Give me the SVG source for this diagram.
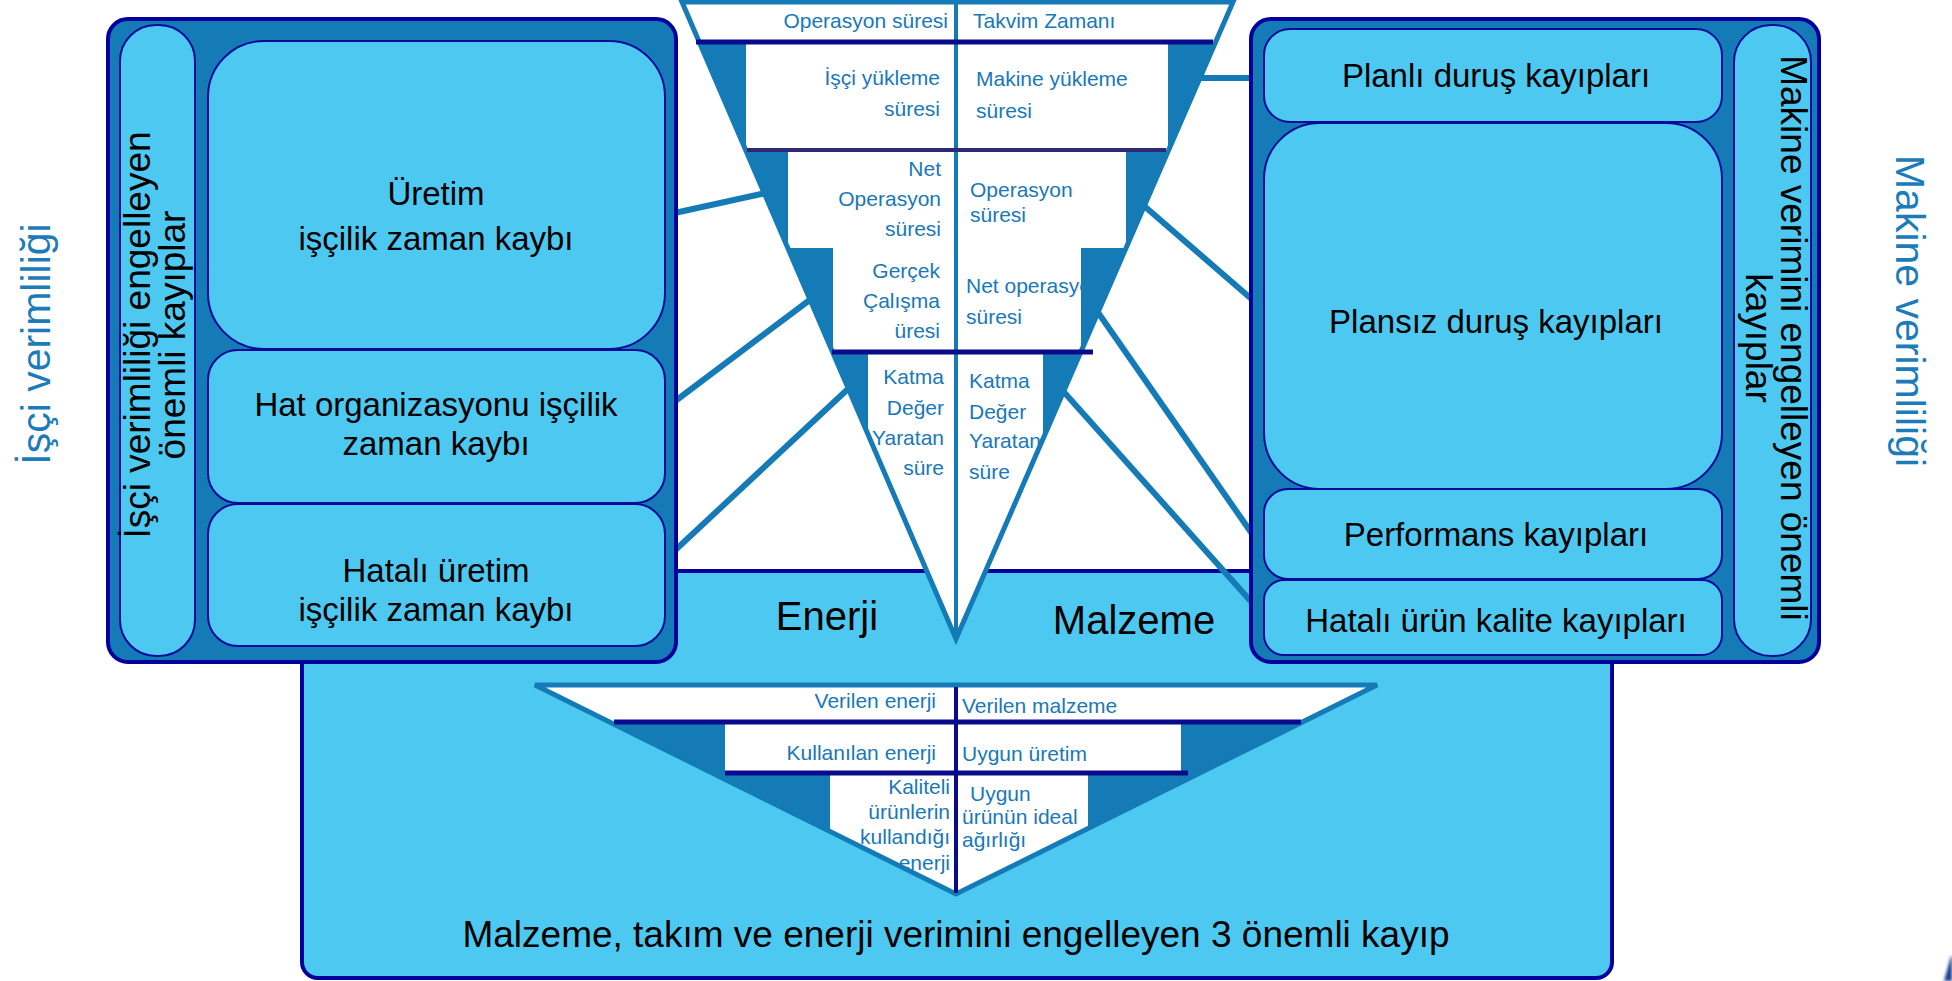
<svg xmlns="http://www.w3.org/2000/svg" width="1952" height="981" viewBox="0 0 1952 981">
  <defs>
    <style>
      .frame{fill:#147BB6;stroke:#00009C;stroke-width:4}
      .box{fill:#4DC9F1;stroke:#0A0A9A;stroke-width:2}
      .lbl{font-family:"Liberation Sans",Arial,sans-serif;font-size:33px;fill:#000;text-anchor:middle}
      .side{font-size:37px}
      .big{font-size:41px;fill:#1C7CBA}
      .res{font-size:40px}
      .cap{font-size:37px}
      .fn{font-family:"Liberation Sans",Arial,sans-serif;font-size:21px;fill:#1878B8}
      .end{text-anchor:end}
      .conn{stroke:#147BB6;stroke-width:6;fill:none}
      .mid{fill:#147BB6}
      .edge{fill:none;stroke:#147BB6;stroke-width:5;stroke-linejoin:miter}
      .navy{stroke:#0A0A8C;stroke-width:5}
    </style>
    <clipPath id="topTri"><polygon points="682,2 1233,2 956,639"/></clipPath>
    <clipPath id="botTri"><polygon points="535,685 1377,685 956,894"/></clipPath>
    <clipPath id="lvl4"><rect x="833" y="248" width="248" height="104"/></clipPath>
    <filter id="soft" x="-50%" y="-50%" width="200%" height="200%"><feGaussianBlur stdDeviation="1.5"/></filter>
  </defs>

  <rect width="1952" height="981" fill="#fff"/>

  <!-- bottom panel: material, tooling and energy losses -->
  <g id="bottom-panel">
    <rect x="302" y="571" width="1310" height="407" rx="16" fill="#4DC9F1" stroke="#00009C" stroke-width="4"/>
    <text class="lbl res" x="827" y="630">Enerji</text>
    <text class="lbl res" x="1134" y="634">Malzeme</text>
    <text class="lbl cap" x="956" y="947">Malzeme, takım ve enerji verimini engelleyen 3 önemli kayıp</text>
  </g>

  <!-- connectors from the time funnel to the loss boxes -->
  <g id="connectors" class="conn">
    <line x1="766" y1="193" x2="670" y2="214"/>
    <line x1="811" y1="299" x2="670" y2="405"/>
    <line x1="849" y1="388" x2="670" y2="555"/>
    <line x1="1198" y1="78" x2="1255" y2="78"/>
    <line x1="1143" y1="205" x2="1255" y2="302"/>
    <line x1="1097" y1="311" x2="1255" y2="538"/>
    <line x1="1063" y1="391" x2="1255" y2="606"/>
  </g>

  <!-- time funnel -->
  <g id="time-funnel">
    <polygon class="mid" points="682,2 1233,2 956,639"/>
    <g clip-path="url(#topTri)" fill="#fff">
      <rect x="682" y="0" width="551" height="42"/>
      <rect x="746" y="42" width="422" height="108"/>
      <rect x="788" y="150" width="338" height="98"/>
      <rect x="833" y="248" width="248" height="104"/>
      <rect x="868" y="352" width="175" height="287"/>
    </g>
    <g class="fn">
      <text class="end" x="948" y="28">Operasyon süresi</text>
      <text x="973" y="28">Takvim Zamanı</text>
      <text class="end" x="940" y="85">İşçi yükleme</text>
      <text class="end" x="940" y="116">süresi</text>
      <text x="976" y="86">Makine yükleme</text>
      <text x="976" y="118">süresi</text>
      <text class="end" x="941" y="176">Net</text>
      <text class="end" x="941" y="206">Operasyon</text>
      <text class="end" x="941" y="236">süresi</text>
      <text x="970" y="197">Operasyon</text>
      <text x="970" y="222">süresi</text>
      <text class="end" x="940" y="278">Gerçek</text>
      <text class="end" x="940" y="308">Çalışma</text>
      <text class="end" x="940" y="338">üresi</text>
      <text x="966" y="293" clip-path="url(#lvl4)">Net operasyon</text>
      <text x="966" y="324">süresi</text>
      <text class="end" x="944" y="384">Katma</text>
      <text class="end" x="944" y="415">Değer</text>
      <text class="end" x="944" y="445">Yaratan</text>
      <text class="end" x="944" y="475">süre</text>
      <text x="969" y="388">Katma</text>
      <text x="969" y="419">Değer</text>
      <text x="969" y="448">Yaratan</text>
      <text x="969" y="479">süre</text>
    </g>
    <polygon class="edge" points="682,2 1233,2 956,639"/>
    <line x1="956" y1="2" x2="956" y2="636" stroke="#147BB6" stroke-width="4"/>
    <line class="navy" x1="696" y1="42" x2="1213" y2="42"/>
    <line x1="747" y1="150" x2="1166" y2="150" stroke="#2E2A70" stroke-width="4"/>
    <line class="navy" x1="832" y1="352" x2="1093" y2="352" stroke-width="4"/>
  </g>

  <!-- energy / material funnel -->
  <g id="material-funnel">
    <polygon class="mid" points="535,685 1377,685 956,894"/>
    <g clip-path="url(#botTri)" fill="#fff">
      <rect x="535" y="685" width="842" height="38"/>
      <rect x="725" y="723" width="456" height="50"/>
      <rect x="830" y="773" width="258" height="121"/>
    </g>
    <g class="fn">
      <text class="end" x="936" y="708">Verilen enerji</text>
      <text x="962" y="713">Verilen malzeme</text>
      <text class="end" x="936" y="760">Kullanılan enerji</text>
      <text x="962" y="761">Uygun üretim</text>
      <text class="end" x="950" y="794">Kaliteli</text>
      <text class="end" x="950" y="819">ürünlerin</text>
      <text class="end" x="950" y="844">kullandığı</text>
      <text class="end" x="950" y="870">enerji</text>
      <text x="970" y="801">Uygun</text>
      <text x="962" y="824">ürünün ideal</text>
      <text x="962" y="847">ağırlığı</text>
    </g>
    <polygon class="edge" points="535,685 1377,685 956,894"/>
    <line class="navy" x1="614" y1="722" x2="1301" y2="722"/>
    <line class="navy" x1="725" y1="773" x2="1188" y2="773"/>
    <line x1="956" y1="687" x2="956" y2="893" stroke="#0A0A8C" stroke-width="4"/>
  </g>

  <!-- worker losses -->
  <g id="worker-losses">
    <rect class="frame" x="108" y="19" width="568" height="643" rx="20"/>
    <rect class="box" x="120" y="25" width="75" height="631" rx="36"/>
    <text class="lbl side" transform="translate(150 335) rotate(-90)"><tspan x="0" y="0">İşçi verimliliği engelleyen</tspan><tspan x="0" y="35">önemli kayıplar</tspan></text>
    <g id="uretim">
      <rect class="box" x="208" y="41" width="457" height="308" rx="56"/>
      <text class="lbl" x="436" y="205">Üretim</text>
      <text class="lbl" x="436" y="250">işçilik zaman kaybı</text>
    </g>
    <g id="hat-organizasyonu">
      <rect class="box" x="208" y="350" width="457" height="153" rx="30"/>
      <text class="lbl" x="436" y="416">Hat organizasyonu işçilik</text>
      <text class="lbl" x="436" y="455">zaman kaybı</text>
    </g>
    <g id="hatali-uretim">
      <rect class="box" x="208" y="504" width="457" height="142" rx="30"/>
      <text class="lbl" x="436" y="582">Hatalı üretim</text>
      <text class="lbl" x="436" y="621">işçilik zaman kaybı</text>
    </g>
  </g>

  <!-- machine losses -->
  <g id="machine-losses">
    <rect class="frame" x="1251" y="19" width="568" height="643" rx="20"/>
    <g id="planli">
      <rect class="box" x="1264" y="29" width="458" height="93" rx="26"/>
      <text class="lbl" x="1496" y="87">Planlı duruş kayıpları</text>
    </g>
    <g id="plansiz">
      <rect class="box" x="1264" y="123" width="458" height="366" rx="56"/>
      <text class="lbl" x="1496" y="333">Plansız duruş kayıpları</text>
    </g>
    <g id="performans">
      <rect class="box" x="1264" y="489" width="458" height="90" rx="24"/>
      <text class="lbl" x="1496" y="546">Performans kayıpları</text>
    </g>
    <g id="kalite">
      <rect class="box" x="1264" y="580" width="458" height="75" rx="20"/>
      <text class="lbl" x="1496" y="632">Hatalı ürün kalite kayıpları</text>
    </g>
    <rect class="box" x="1734" y="25" width="77" height="631" rx="37"/>
    <text class="lbl side" transform="translate(1781 338) rotate(90)"><tspan x="0" y="0">Makine verimini engelleyen önemli</tspan><tspan x="0" y="35">kayıplar</tspan></text>
  </g>

  <!-- side headings -->
  <g id="headings">
    <text class="lbl big" transform="translate(50 344) rotate(-90)">İşçi verimliliği</text>
    <text class="lbl big" transform="translate(1896 311) rotate(90)">Makine verimliliği</text>
  </g>

  <!-- partly visible shape at the lower right edge -->
  <polygon points="1944,981 1951,956 1952,956 1952,981" fill="#1B3F8F" filter="url(#soft)"/>
</svg>
